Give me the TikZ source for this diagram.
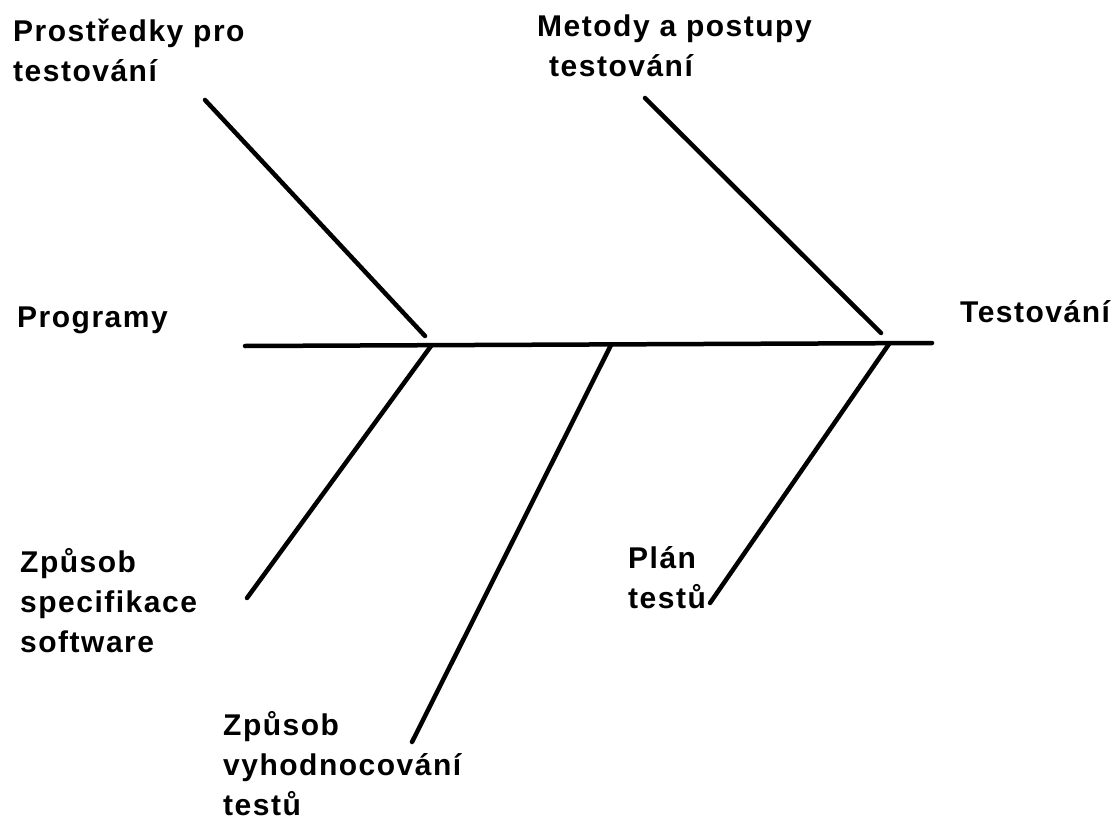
\documentclass[tikz,border=0pt]{standalone}
\usepackage{fontspec}
\newfontfamily\lblfont{Liberation Sans}[UprightFont={* Bold},LetterSpace=5]
\begin{document}
\begin{tikzpicture}[x=1pt,y=-1pt,
  bone/.style={line width=4.5pt,line cap=round},
  lbl/.style={inner sep=0pt,anchor=base west,align=left,
    font=\lblfont\fontsize{30}{40}\selectfont}]
\useasboundingbox (0,0) rectangle (1118,821);
% spine of the diagram
\coordinate (tail) at (245,346);
\coordinate (head) at (932,343);
\draw[bone] (tail) -- (head);
% junctions on the spine
\coordinate (jA) at (425,336);
\coordinate (jB) at (431,346);
\coordinate (jC) at (611,345);
\coordinate (jD) at (881,333);
\coordinate (jE) at (889,344);
% free ends of the bones
\coordinate (eA) at (205,100);
\coordinate (eB) at (247,598);
\coordinate (eC) at (412,742);
\coordinate (eD) at (645,98);
\coordinate (eE) at (710,603);
\draw[bone] (eA) -- (jA);
\draw[bone] (jB) -- (eB);
\draw[bone] (jC) -- (eC);
\draw[bone] (eD) -- (jD);
\draw[bone] (jE) -- (eE);
% labels (anchored at the baseline of their last line)
\node[lbl] (prostredky) at (13,82) {Prostředky pro\\testování};
\node[lbl] (metody) at (537,77) {Metody a postupy\\\hspace*{12pt}testování};
\node[lbl] (programy) at (17,327) {Programy};
\node[lbl] (testovani) at (960,322) {Testování};
\node[lbl] (specifikace) at (20,652) {Způsob\\specifikace\\software};
\node[lbl] (vyhodnocovani) at (223,815) {Způsob\\vyhodnocování\\testů};
\node[lbl] (plan) at (628,608) {Plán\\testů};
\end{tikzpicture}
\end{document}
